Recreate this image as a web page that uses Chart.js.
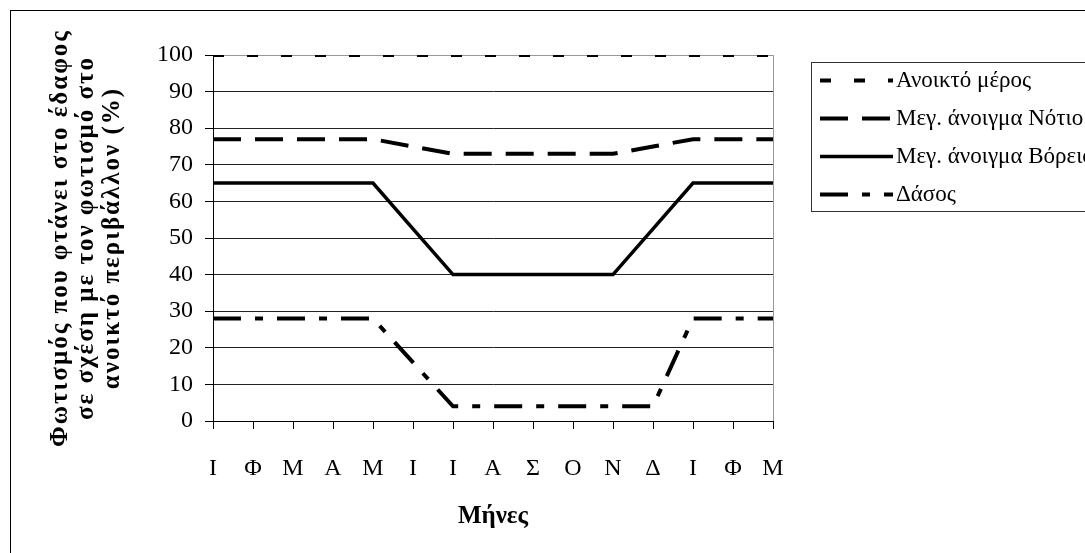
<!DOCTYPE html>
<html>
<head>
<meta charset="utf-8">
<script src="https://cdn.jsdelivr.net/npm/chart.js@4"></script>
<style>
  html, body { margin: 0; padding: 0; background: #fff; }
  #wrap { width: 1085px; height: 553px; position: relative; }
</style>
</head>
<body>
<div id="wrap"><canvas id="c" width="1085" height="553"></canvas></div>
<script>
// Months shown along the horizontal axis (Jan .. Dec, then Jan .. Mar again)
const months = ['Ι', 'Φ', 'Μ', 'Α', 'Μ', 'Ι', 'Ι', 'Α', 'Σ', 'Ο', 'Ν', 'Δ', 'Ι', 'Φ', 'Μ'];

// Light reaching the ground, % of the light in the open
const openSite  = [100, 100, 100, 100, 100, 100, 100, 100, 100, 100, 100, 100, 100, 100, 100];
const southGap  = [77, 77, 77, 77, 77, 75, 73, 73, 73, 73, 73, 75, 77, 77, 77];
const northGap  = [65, 65, 65, 65, 65, 52.5, 40, 40, 40, 40, 40, 52.5, 65, 65, 65];
const forest    = [28, 28, 28, 28, 28, 16, 4, 4, 4, 4, 4, 4, 28, 28, 28];

const seriesNames = ['Ανοικτό μέρος', 'Μεγ. άνοιγμα Νότιο', 'Μεγ. άνοιγμα Βόρειο', 'Δάσος'];
const yTickValues = [0, 10, 20, 30, 40, 50, 60, 70, 80, 90, 100];

const yTitle = ['Φωτισμός που φτάνει στο έδαφος', 'σε σχέση με τον φωτισμό στο', 'ανοικτό περιβάλλον (%)'];
const xTitle = 'Μήνες';

const FONT = '"Liberation Serif", "Times New Roman", serif';

// Chart frame and the boxed legend on the right
const frameAndLegend = {
  id: 'frameAndLegend',
  afterDraw(chart) {
    const ctx = chart.ctx;
    ctx.save();
    ctx.setLineDash([]);
    ctx.lineWidth = 1;
    ctx.strokeStyle = '#000';
    ctx.strokeRect(10.5, 10.5, 1200, 700);

    ctx.strokeStyle = '#333';
    ctx.strokeRect(811.5, 62.5, 400, 149);

    chart.data.datasets.forEach((ds, i) => {
      const y = 80.5 + i * 38;
      ctx.save();
      ctx.setLineDash(ds.borderDash || []);
      ctx.lineDashOffset = 0;
      ctx.lineWidth = ds.borderWidth;
      ctx.strokeStyle = ds.borderColor;
      ctx.lineCap = 'butt';
      ctx.beginPath();
      ctx.moveTo(820, y);
      ctx.lineTo(893, y);
      ctx.stroke();
      ctx.restore();
      ctx.fillStyle = '#000';
      ctx.font = '23px ' + FONT;
      ctx.textBaseline = 'middle';
      ctx.textAlign = 'left';
      ctx.fillText(ds.label, 896, y);
    });
    ctx.restore();
  }
};

const lineBase = { borderColor: '#000', backgroundColor: '#000', pointRadius: 0, pointHoverRadius: 0, tension: 0, fill: false, borderCapStyle: 'butt' };

new Chart(document.getElementById('c'), {
  type: 'line',
  data: {
    labels: months,
    datasets: [
      Object.assign({}, lineBase, { label: seriesNames[0], data: openSite, borderWidth: 4,   borderDash: [11, 23] }),
      Object.assign({}, lineBase, { label: seriesNames[1], data: southGap, borderWidth: 4,   borderDash: [28, 14] }),
      Object.assign({}, lineBase, { label: seriesNames[2], data: northGap, borderWidth: 3.5, borderDash: [] }),
      Object.assign({}, lineBase, { label: seriesNames[3], data: forest,   borderWidth: 4,   borderDash: [28, 14, 8, 14] })
    ]
  },
  options: {
    responsive: false,
    animation: false,
    devicePixelRatio: 1,
    layout: { padding: { left: 0, top: 55, right: 312, bottom: 0 } },
    plugins: { legend: { display: false }, tooltip: { enabled: false } },
    scales: {
      x: {
        offset: false,
        afterFit(scale) { scale.height = 132; },
        grid: {
          drawOnChartArea: true,
          color: (c) => (c.index === months.length - 1 ? '#999' : 'rgba(0,0,0,0)'),
          tickColor: '#000',
          tickLength: 8,
          lineWidth: 1
        },
        border: { color: '#000', width: 1 },
        ticks: { color: '#000', font: { family: FONT, size: 24 }, padding: 25, maxRotation: 0, autoSkip: false },
        title: { display: true, text: xTitle, color: '#000', font: { family: FONT, size: 25, weight: 'bold' }, padding: { top: 0, bottom: 21 } }
      },
      y: {
        min: 0,
        max: 100,
        afterFit(scale) { scale.width = 213; },
        afterBuildTicks(scale) { scale.ticks = yTickValues.map(v => ({ value: v })); },
        afterUpdate(scale) {
          // widen the tracking of the rotated axis title
          if (!scale._trackedTitle) {
            const drawTitle = scale.drawTitle;
            scale.drawTitle = function () {
              const ctx = this.ctx;
              ctx.save();
              ctx.letterSpacing = '2px';
              drawTitle.apply(this, arguments);
              ctx.restore();
            };
            scale._trackedTitle = true;
          }
        },
        grid: {
          color: (c) => (c.tick && c.tick.value === 100 ? '#999' : '#222'),
          tickColor: '#000',
          tickLength: 8,
          lineWidth: 1
        },
        border: { color: '#000', width: 1 },
        ticks: { color: '#000', font: { family: FONT, size: 24 }, padding: 12 },
        title: { display: true, text: yTitle, color: '#000', font: { family: FONT, size: 25, weight: 'bold', lineHeight: 1.04 }, padding: { top: 48, bottom: 0 } }
      }
    }
  },
  plugins: [frameAndLegend]
});
</script>
</body>
</html>
